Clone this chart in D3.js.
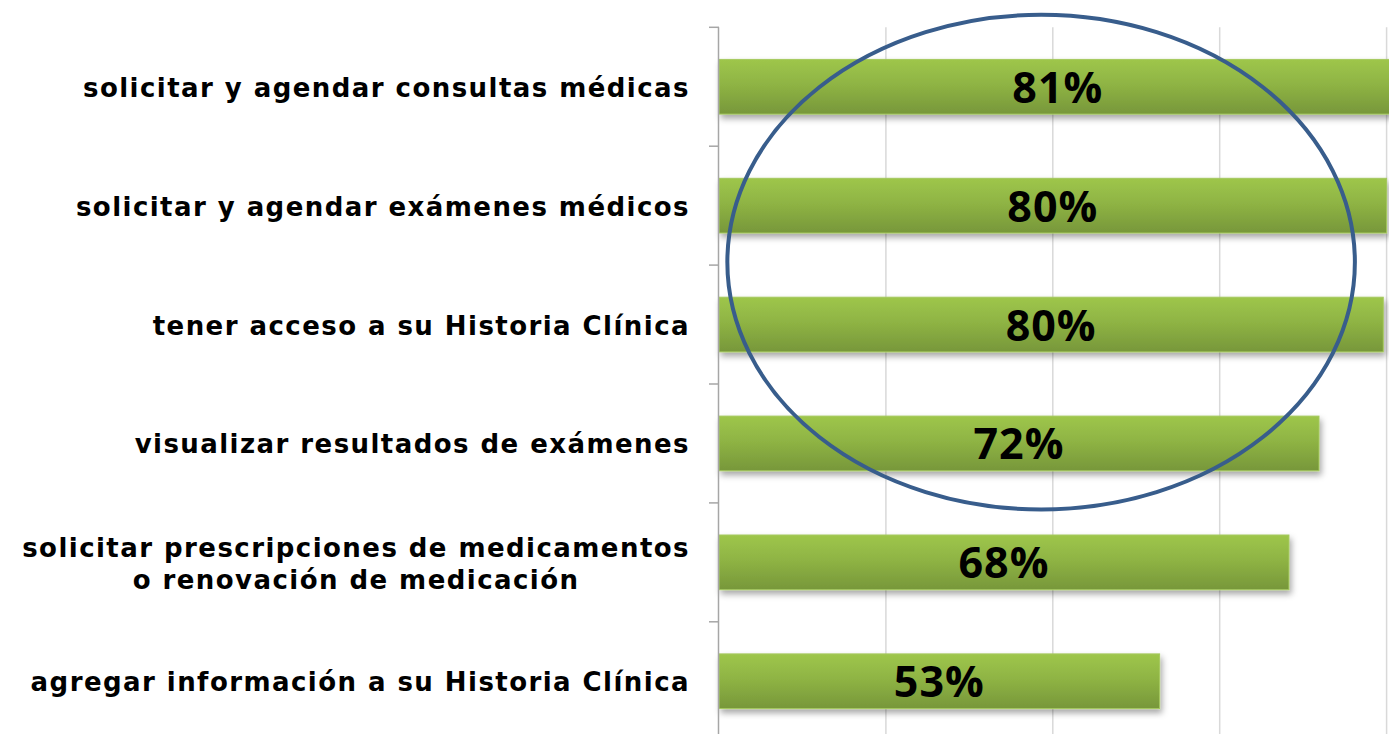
<!DOCTYPE html>
<html><head><meta charset="utf-8">
<script src="https://cdn.jsdelivr.net/npm/d3@7/dist/d3.min.js"></script>
<style>
html,body{margin:0;padding:0;background:#fff;}
svg{display:block;}
</style></head>
<body>
<svg id="chart" width="1389" height="734"></svg>
<script>
const categories = [
  ["solicitar y agendar consultas médicas"],
  ["solicitar y agendar exámenes médicos"],
  ["tener acceso a su Historia Clínica"],
  ["visualizar resultados de exámenes"],
  ["solicitar prescripciones de medicamentos", "o renovación de medicación"],
  ["agregar información a su Historia Clínica"]
];
const values = [0.812, 0.800, 0.796, 0.719, 0.683, 0.528];
const valueLabels = ["81%", "80%", "80%", "72%", "68%", "53%"];
const gridTicks = [0, 0.2, 0.4, 0.6, 0.8];

const svg = d3.select("#chart");
const W = 1389, H = 734;
const x = d3.scaleLinear().domain([0, 1]).range([719, 719 + 834.5]);
const y = d3.scaleBand().domain(d3.range(categories.length)).range([27.3, 740.7]).paddingInner(0.54).paddingOuter(0.27);
const band = y.step();
const LABEL_FONT = "'DejaVu Sans', sans-serif";
const VALUE_FONT = "'Open Sans', 'DejaVu Sans', sans-serif";

const defs = svg.append("defs");
const grad = defs.append("linearGradient").attr("id", "barGrad").attr("x1", 0).attr("y1", 0).attr("x2", 0).attr("y2", 1);
grad.append("stop").attr("offset", "0%").attr("stop-color", "#9ec64b");
grad.append("stop").attr("offset", "45%").attr("stop-color", "#8fb444");
grad.append("stop").attr("offset", "100%").attr("stop-color", "#77973a");
const filt = defs.append("filter").attr("id", "shadow").attr("x", "-5%").attr("y", "-20%").attr("width", "115%").attr("height", "160%");
filt.append("feDropShadow").attr("dx", 2).attr("dy", 4).attr("stdDeviation", 3).attr("flood-color", "#000").attr("flood-opacity", 0.35);

// gridlines
svg.append("g").selectAll("line").data(gridTicks.slice(1)).join("line")
  .attr("x1", d => x(d)).attr("x2", d => x(d))
  .attr("y1", y.range()[0]).attr("y2", H)
  .attr("stroke", "#d9d9d9").attr("stroke-width", 1.5);

// bars
svg.append("g").selectAll("rect").data(values).join("rect")
  .attr("x", x(0))
  .attr("y", (d, i) => y(i))
  .attr("width", d => x(d) - x(0))
  .attr("height", y.bandwidth())
  .attr("fill", "url(#barGrad)")
  .attr("stroke", "#a5c95e").attr("stroke-width", 1)
  .attr("filter", "url(#shadow)");

// axis line and ticks
const ax = svg.append("g");
ax.append("line").attr("x1", x(0) - 0.5).attr("x2", x(0) - 0.5).attr("y1", y.range()[0]).attr("y2", H)
  .attr("stroke", "#a6a6a6").attr("stroke-width", 1.5);
ax.selectAll("line.tick").data(d3.range(categories.length + 1)).join("line").attr("class", "tick")
  .attr("x1", x(0) - 10).attr("x2", x(0))
  .attr("y1", i => y.range()[0] + i * band).attr("y2", i => y.range()[0] + i * band)
  .attr("stroke", "#a6a6a6").attr("stroke-width", 1.5);

// category labels
const labG = svg.append("g").attr("font-family", LABEL_FONT).attr("font-weight", 700)
  .attr("font-size", 26).attr("fill", "#000");
// letter-spacing chosen so the first label matches the reference width
const probe = labG.append("text").text(categories[0][0]);
const baseW = probe.node().getComputedTextLength();
probe.remove();
const nChars = categories[0][0].length;
const ls = (607 - baseW) / nChars;
labG.attr("letter-spacing", ls);

const labelRight = 690;
categories.forEach((lines, i) => {
  const cy = y(i) + y.bandwidth() / 2;
  const lh = 32;
  if (lines.length === 1) {
    labG.append("text").attr("x", labelRight).attr("y", cy + 10).attr("text-anchor", "end").text(lines[0]);
  } else {
    const p = labG.append("text").text(lines[0]);
    const w = p.node().getComputedTextLength();
    p.remove();
    const cx = labelRight - w / 2;
    lines.forEach((ln, j) => {
      labG.append("text").attr("x", cx).attr("text-anchor", "middle")
        .attr("y", cy + (j - (lines.length - 1) / 2) * lh + 10.5)
        .text(ln);
    });
  }
});

// value labels
svg.append("g").selectAll("text").data(values).join("text")
  .attr("x", d => (x(0) + x(d)) / 2)
  .attr("y", (d, i) => y(i) + y.bandwidth() / 2 + 16)
  .attr("text-anchor", "middle")
  .attr("font-family", VALUE_FONT).attr("font-weight", 700).attr("font-size", 43)
  .attr("letter-spacing", 1)
  .attr("fill", "#000")
  .text((d, i) => valueLabels[i]);

// highlight ellipse around top four categories
svg.append("ellipse")
  .attr("cx", x(0.386))
  .attr("cy", y.range()[0] + 2 * band - 3)
  .attr("rx", x(0.376) - x(0))
  .attr("ry", band * 2.08)
  .attr("fill", "none").attr("stroke", "#385d8c").attr("stroke-width", 4);
</script>
</body></html>
